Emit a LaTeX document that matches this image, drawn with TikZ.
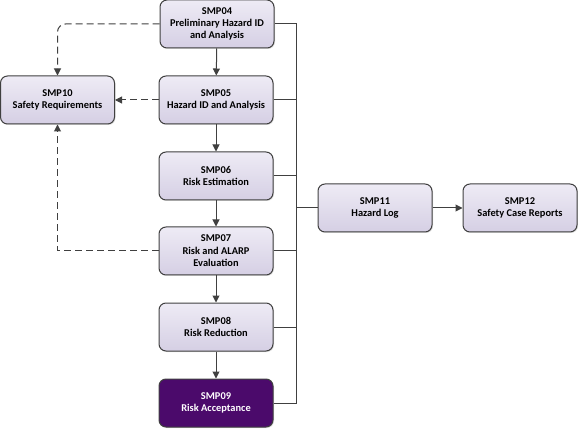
\documentclass[tikz,border=0pt]{standalone}
\usepackage{fontspec}
\setmainfont{Carlito}
\usetikzlibrary{arrows.meta,shadows}
\definecolor{boxtop}{HTML}{EEEBF5}
\definecolor{boxbot}{HTML}{D5CFE4}
\definecolor{boxline}{HTML}{404040}
\definecolor{accept}{HTML}{4B0A6B}
\tikzset{
  smpbox/.style   = {shape=rectangle, rounded corners=7pt,
                     draw=boxline, line width=1pt, align=center,
                     minimum width=114pt, minimum height=48pt,
                     top color=boxtop, bottom color=boxbot,
                     font=\bfseries\fontsize{10.4}{12.4}\selectfont,
                     drop shadow={shadow xshift=1pt, shadow yshift=-1pt, opacity=0.25}},
  finalbox/.style = {smpbox, top color=accept, bottom color=accept, text=white},
  flow/.style     = {draw=boxline, line width=1pt, -{Triangle[length=7pt,width=7pt]}},
  feed/.style     = {flow, dash pattern=on 7pt off 4pt},
  bus/.style      = {draw=boxline, line width=1pt}
}
\begin{document}
\begin{tikzpicture}[x=1pt,y=-1pt]
  \useasboundingbox (0,0) rectangle (578,430);

  % main chain
  \node [smpbox] (smp04) at (217,24)  {SMP04\\Preliminary Hazard ID\\and Analysis};
  \node [smpbox] (smp05) at (216,100) {SMP05\\Hazard ID and Analysis};
  \node [smpbox] (smp06) at (216,176) {SMP06\\Risk Estimation};
  \node [smpbox] (smp07) at (216,251) {SMP07\\Risk and ALARP\\Evaluation};
  \node [smpbox] (smp08) at (216,327) {SMP08\\Risk Reduction};
  \node [finalbox] (smp09) at (216,403) {SMP09\\Risk Acceptance};

  % side boxes
  \node [smpbox] (smp10) at (57.5,100) {SMP10\\Safety Requirements};
  \node [smpbox] (smp11) at (375,208)  {SMP11\\Hazard Log};
  \node [smpbox] (smp12) at (520,208)  {SMP12\\Safety Case Reports};

  \coordinate (bustop) at (296,24);
  \coordinate (busbot) at (296,403);
  \coordinate (buslog) at (296,208);

  \draw [flow] (smp04) -- (smp05);
  \draw [flow] (smp05) -- (smp06);
  \draw [flow] (smp06) -- (smp07);
  \draw [flow] (smp07) -- (smp08);
  \draw [flow] (smp08) -- (smp09);

  % feedback to requirements
  \draw [feed, rounded corners=8pt] (smp04.west) -| (smp10.north);
  \draw [feed] (smp05.west) -- (smp10.east);
  \draw [feed] (smp07.west) -| (smp10.south);

  % hazard log bus
  \draw [bus] (smp04.east) -- (bustop) -- (busbot) -- (smp09.east);
  \foreach \s in {smp05,smp06,smp07,smp08}
    \draw [bus] (\s.east) -- (\s.east -| bustop);
  \draw [bus] (buslog) -- (smp11.west);
  \draw [flow] (smp11) -- (smp12);
\end{tikzpicture}
\end{document}
